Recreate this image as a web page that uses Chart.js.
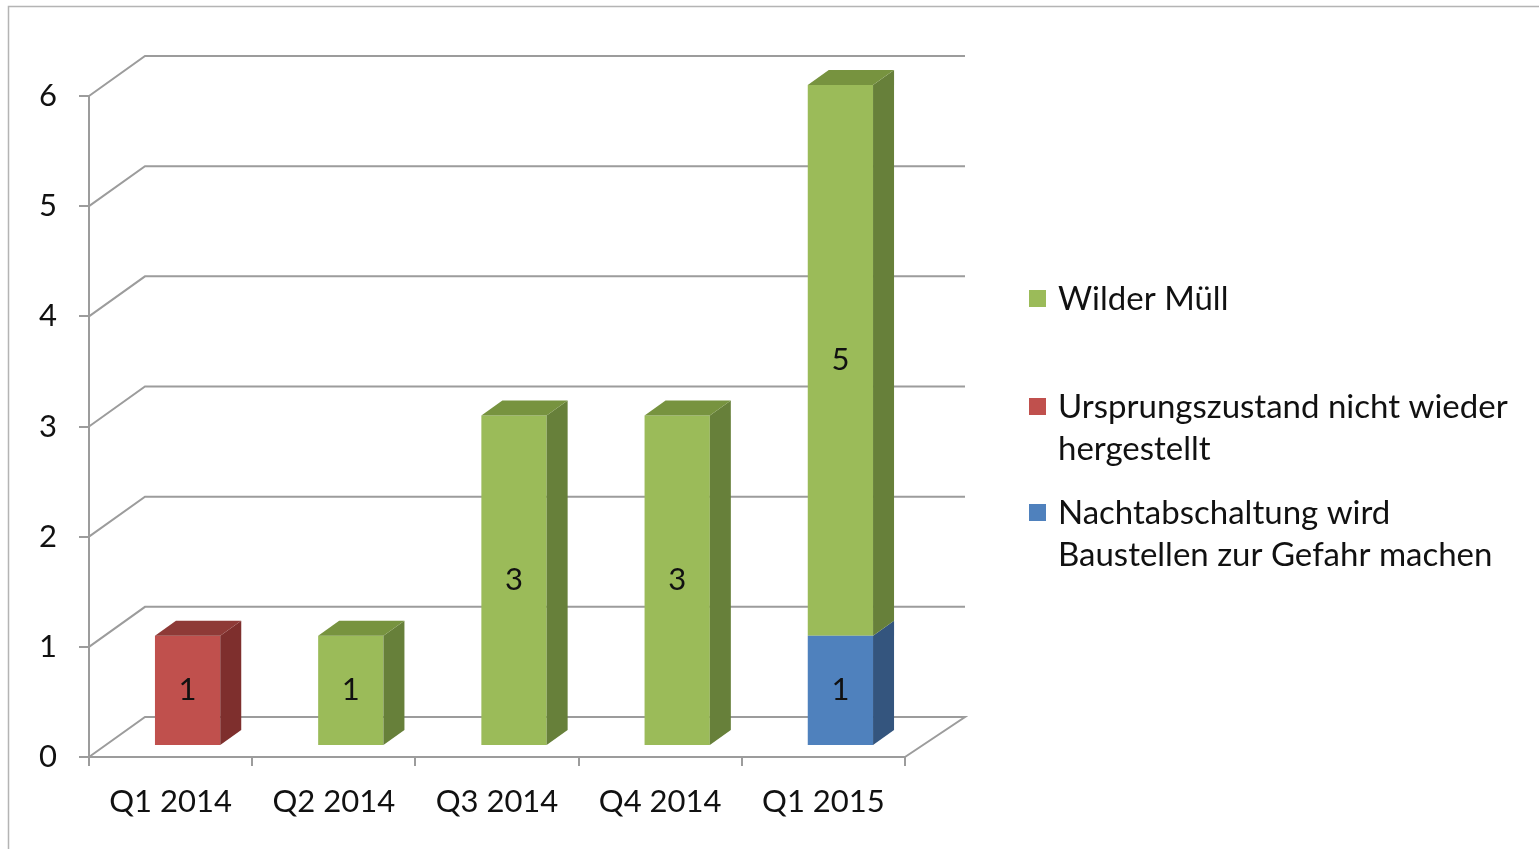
<!DOCTYPE html>
<html>
<head>
<meta charset="utf-8">
<script src="https://cdn.jsdelivr.net/npm/chart.js@4.4.0/dist/chart.umd.min.js"></script>
<style>
  html, body { margin: 0; padding: 0; background: #fff; overflow: hidden; }
  #wrap { position: relative; width: 1539px; height: 849px; }
</style>
</head>
<body>
<div id="wrap"><canvas id="chart" width="1539" height="849"></canvas></div>
<script>
// data
const quarters = ['Q1 2014', 'Q2 2014', 'Q3 2014', 'Q4 2014', 'Q1 2015'];
const nachtabschaltung = [null, null, null, null, 1];
const ursprungszustand = [1, null, null, null, null];
const wilderMuell = [null, 1, 3, 3, 5];
const yMin = 0;
const yMax = 6;

const FONT = 'Lato, "Open Sans", sans-serif';
const GRID = '#9c9c9c';

// depth of the back wall and of the bars (pixels)
const WALL = { dx: 56, dy: -40 };
const SHIFT = { dx: 17, dy: -11 };
const DEPTH = { dx: 21, dy: -15 };

const series = [
  { label: ['Nachtabschaltung wird', 'Baustellen zur Gefahr machen'], data: nachtabschaltung,
    front: '#4f81bd', side: '#34557e', top: '#3e6594' },
  { label: ['Ursprungszustand nicht wieder', 'hergestellt'], data: ursprungszustand,
    front: '#c0504d', side: '#7e2f2d', top: '#8e3a37' },
  { label: ['Wilder Müll'], data: wilderMuell,
    front: '#9bbb59', side: '#67803a', top: '#77933f' }
];

const box3d = {
  id: 'box3d',
  beforeDraw(chart) {
    const ctx = chart.ctx;
    ctx.save();
    ctx.strokeStyle = '#b4b4b4';
    ctx.lineWidth = 1.5;
    ctx.strokeRect(8.5, 6.5, 1700, 1000);
    ctx.restore();
  },
  beforeDatasetsDraw(chart) {
    const ctx = chart.ctx;
    const area = chart.chartArea;
    const y = chart.scales.y;
    ctx.save();
    ctx.strokeStyle = GRID;
    ctx.lineWidth = 2;
    y.ticks.forEach(t => {
      const py = y.getPixelForValue(t.value);
      ctx.beginPath();
      ctx.moveTo(area.left, py);
      ctx.lineTo(area.left + WALL.dx, py + WALL.dy);
      ctx.lineTo(area.right + WALL.dx + 4, py + WALL.dy);
      if (t.value === yMin) ctx.lineTo(area.right, py);
      ctx.stroke();
    });
    ctx.restore();
    ctx.save();
    ctx.translate(SHIFT.dx, SHIFT.dy);
  },
  afterDatasetsDraw(chart) {
    const ctx = chart.ctx;
    const n = quarters.length;
    // topmost segment of every stack
    const topIdx = [];
    for (let i = 0; i < n; i++) {
      series.forEach((s, d) => { if (s.data[i] != null) topIdx[i] = d; });
    }
    const labels = [];
    series.forEach((s, d) => {
      const meta = chart.getDatasetMeta(d);
      meta.data.forEach((bar, i) => {
        if (s.data[i] == null) return;
        const p = bar.getProps(['x', 'y', 'base', 'width'], true);
        const l = p.x - p.width / 2, r = p.x + p.width / 2;
        const t = Math.min(p.y, p.base), b = Math.max(p.y, p.base);
        ctx.fillStyle = s.side;
        ctx.beginPath();
        ctx.moveTo(r, t);
        ctx.lineTo(r + DEPTH.dx, t + DEPTH.dy);
        ctx.lineTo(r + DEPTH.dx, b + DEPTH.dy);
        ctx.lineTo(r, b);
        ctx.closePath();
        ctx.fill();
        if (topIdx[i] === d) {
          ctx.fillStyle = s.top;
          ctx.beginPath();
          ctx.moveTo(l, t);
          ctx.lineTo(l + DEPTH.dx, t + DEPTH.dy);
          ctx.lineTo(r + DEPTH.dx, t + DEPTH.dy);
          ctx.lineTo(r, t);
          ctx.closePath();
          ctx.fill();
        }
        labels.push({ x: p.x, y: (t + b) / 2, v: s.data[i] });
      });
    });
    ctx.fillStyle = '#111';
    ctx.font = '31px ' + FONT;
    ctx.textAlign = 'center';
    ctx.textBaseline = 'middle';
    labels.forEach(o => ctx.fillText(String(o.v), o.x, o.y));
    ctx.restore();
  },
  afterDraw(chart) {
    // legend, listed top stack first like the original
    const ctx = chart.ctx;
    const rows = [[298], [406, 448], [512, 554]];
    const order = series.slice().reverse();
    ctx.save();
    ctx.font = '33px ' + FONT;
    ctx.textAlign = 'left';
    ctx.textBaseline = 'middle';
    order.forEach((s, k) => {
      const ys = rows[k];
      ctx.fillStyle = s.front;
      ctx.fillRect(1029, ys[0] - 8, 17, 17);
      ctx.fillStyle = '#111';
      s.label.forEach((line, j) => ctx.fillText(line, 1058, ys[j] + 1));
    });
    ctx.restore();
  }
};

new Chart(document.getElementById('chart'), {
  type: 'bar',
  data: {
    labels: quarters,
    datasets: series.map(s => ({
      label: s.label.join(' '),
      data: s.data,
      backgroundColor: s.front,
      borderWidth: 0,
      clip: false,
      categoryPercentage: 1,
      barPercentage: 0.4
    }))
  },
  options: {
    responsive: false,
    animation: false,
    events: [],
    layout: { padding: { left: 0, top: 96, right: 634, bottom: 0 } },
    plugins: { legend: { display: false }, tooltip: { enabled: false } },
    scales: {
      x: {
        stacked: true,
        grid: { drawOnChartArea: false, drawTicks: true, tickLength: 9, color: GRID, lineWidth: 2, offset: true },
        border: { display: true, color: GRID, width: 2 },
        ticks: { color: '#111', font: { family: FONT, size: 31 }, padding: 17, maxRotation: 0 },
        afterFit(scale) { scale.height = 92; }
      },
      y: {
        stacked: true,
        min: yMin,
        max: yMax,
        grid: { drawOnChartArea: false, drawTicks: true, tickLength: 10, color: GRID, lineWidth: 2 },
        border: { display: true, color: GRID, width: 2 },
        ticks: { stepSize: 1, color: '#111', font: { family: FONT, size: 31 }, padding: 22 },
        afterFit(scale) { scale.width = 89; }
      }
    }
  },
  plugins: [box3d]
});
</script>
</body>
</html>
